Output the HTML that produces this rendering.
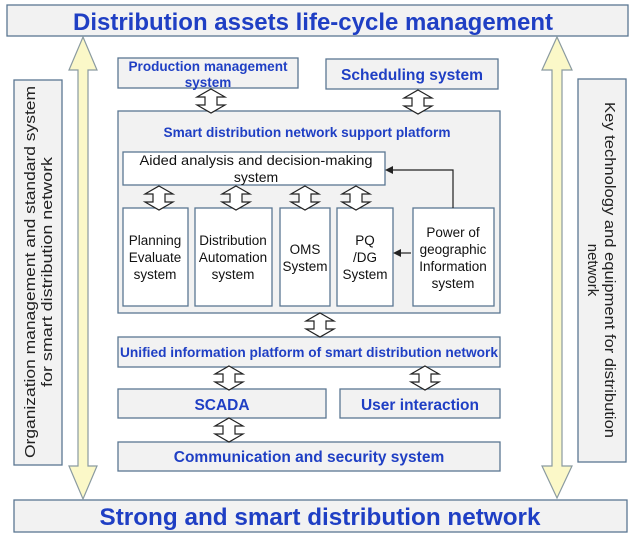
<!DOCTYPE html>
<html><head><meta charset="utf-8"><style>
body{margin:0;background:#fff}
svg{display:block}
text{font-family:"Liberation Sans",sans-serif}
.b{fill:#1f3fc4;font-weight:bold}
</style></head><body>
<svg width="632" height="539" viewBox="0 0 632 539">
<defs>
<g id="da"><path d="M0,0 L14,8 L6,8 L6,16 L14,16 L0,24 L-14,16 L-6,16 L-6,8 L-14,8 Z" fill="#fff" stroke="#222" stroke-width="1.2"/></g>
</defs>
<g stroke="#5a7792" stroke-width="1.3" fill="#f2f2f2">
<rect x="7" y="5" width="621" height="31"/>
<rect x="14" y="500" width="613" height="32"/>
<rect x="14" y="80" width="48" height="385"/>
<rect x="578" y="79" width="48" height="383"/>
<rect x="118" y="58" width="180" height="30"/>
<rect x="326" y="59" width="172" height="30"/>
<rect x="118" y="111" width="382" height="202"/>
<rect x="118" y="337" width="382" height="30"/>
<rect x="118" y="389" width="208" height="29"/>
<rect x="340" y="389" width="160" height="29"/>
<rect x="118" y="442" width="382" height="29"/>
</g>
<g stroke="#5a7792" stroke-width="1.3" fill="#fff">
<rect x="123" y="152" width="262" height="33"/>
<rect x="123" y="208" width="65" height="98"/>
<rect x="195" y="208" width="77" height="98"/>
<rect x="280" y="208" width="50" height="98"/>
<rect x="337" y="208" width="56" height="98"/>
<rect x="413" y="208" width="81" height="98"/>
</g>
<g fill="#fbf8c8" stroke="#8a9aa0" stroke-width="1.2">
<path d="M83,37 L97,70 L88,70 L88,466 L97,466 L83,499 L69,466 L78,466 L78,70 L69,70 Z"/>
<path d="M557,37 L572,70 L562,70 L562,466 L572,466 L557,498 L542,466 L552,466 L552,70 L542,70 Z"/>
</g>
<use href="#da" x="211" y="89"/>
<use href="#da" x="418" y="90"/>
<use href="#da" x="159" y="186"/>
<use href="#da" x="236" y="186"/>
<use href="#da" x="305" y="186"/>
<use href="#da" x="356" y="186"/>
<use href="#da" x="320" y="313"/>
<use href="#da" x="229" y="366"/>
<use href="#da" x="425" y="366"/>
<use href="#da" x="229" y="418"/>
<g stroke="#222" stroke-width="1.2" fill="none">
<path d="M453,208 L453,170 L392,170"/>
<path d="M411,253 L400,253"/>
</g>
<path d="M385,170 L393,166 L393,174 Z" fill="#222"/>
<path d="M393,253 L401,249 L401,257 Z" fill="#222"/>
<text x="313" y="30" class="b" font-size="24" text-anchor="middle" textLength="480" lengthAdjust="spacingAndGlyphs">Distribution assets life-cycle management</text>
<text x="320" y="525" class="b" font-size="24" text-anchor="middle" textLength="441" lengthAdjust="spacingAndGlyphs">Strong and smart distribution network</text>
<text x="208" y="71" class="b" font-size="13.5" text-anchor="middle" textLength="159" lengthAdjust="spacingAndGlyphs">Production management</text>
<text x="208" y="87" class="b" font-size="13.5" text-anchor="middle">system</text>
<text x="412" y="80" class="b" font-size="15.5" text-anchor="middle" textLength="142" lengthAdjust="spacingAndGlyphs">Scheduling system</text>
<text x="307" y="137" class="b" font-size="13.5" text-anchor="middle" textLength="287" lengthAdjust="spacingAndGlyphs">Smart distribution network support platform</text>
<text x="256" y="165" font-size="14" text-anchor="middle" fill="#111" textLength="233" lengthAdjust="spacingAndGlyphs">Aided analysis and decision-making</text>
<text x="256" y="182" font-size="14" text-anchor="middle" fill="#111">system</text>
<g font-size="13.5" text-anchor="middle" fill="#111">
<text x="155" y="245">Planning</text><text x="155" y="262">Evaluate</text><text x="155" y="279">system</text>
<text x="233" y="245">Distribution</text><text x="233" y="262">Automation</text><text x="233" y="279">system</text>
<text x="305" y="254">OMS</text><text x="305" y="271">System</text>
<text x="365" y="245">PQ</text><text x="365" y="262">/DG</text><text x="365" y="279">System</text>
<text x="453" y="237">Power of</text><text x="453" y="254">geographic</text><text x="453" y="271">Information</text><text x="453" y="288">system</text>
</g>
<text x="309" y="357" class="b" font-size="13.5" text-anchor="middle" textLength="378" lengthAdjust="spacingAndGlyphs">Unified information platform of smart distribution network</text>
<text x="222" y="410" class="b" font-size="15.5" text-anchor="middle">SCADA</text>
<text x="420" y="410" class="b" font-size="15.5" text-anchor="middle">User interaction</text>
<text x="309" y="462" class="b" font-size="15.5" text-anchor="middle">Communication and security system</text>
<g font-size="15" fill="#222" text-anchor="middle">
<text transform="translate(35,272) rotate(-90)" textLength="372" lengthAdjust="spacingAndGlyphs">Organization management and standard system</text>
<text transform="translate(52,272) rotate(-90)" textLength="230" lengthAdjust="spacingAndGlyphs">for smart distribution network</text>
<text transform="translate(605,270) rotate(90)" textLength="336" lengthAdjust="spacingAndGlyphs">Key technology and equipment for distribution</text>
<text transform="translate(588,270) rotate(90)">network</text>
</g>
</svg>
</body></html>
